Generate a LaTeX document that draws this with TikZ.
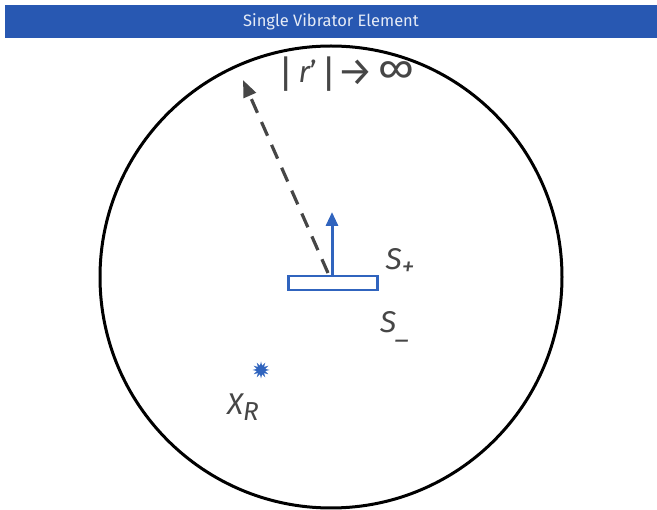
\documentclass[tikz,border=0pt]{standalone}
\usepackage{fontspec}
\setmainfont{Fira Sans}
\usetikzlibrary{shapes.geometric,arrows.meta}
\definecolor{barblue}{RGB}{40,88,178}
\definecolor{elblue}{RGB}{48,100,190}
\definecolor{labgray}{RGB}{70,70,70}
\newcommand{\lowsub}[1]{\raisebox{-0.4ex}{\fontsize{26}{26}\selectfont #1}}
\newcommand{\tallbar}{{\upshape\fontsize{38}{38}\selectfont\raisebox{-0.12em}{|}}}

\begin{document}
\begin{tikzpicture}[x=1pt, y=-1pt, every node/.style={inner sep=0pt},
    lab/.style={text=labgray, font=\fontsize{30}{30}\selectfont\itshape}]
    \useasboundingbox (0,0) rectangle (657,510);
    \clip (0,0) rectangle (657,510);

    \coordinate (C) at (331,277);
    \coordinate (Ptop) at (332,276);
    \coordinate (Parrow) at (332,212);
    \coordinate (Pfoot) at (328,273);
    \coordinate (Pfar) at (243,80);

    % Header bar
    \fill[barblue] (5,5) rectangle (657,38);
    \node[text=white!88!barblue, font=\fontsize{16.5}{16.5}\selectfont] (title) at (331,22) {Single Vibrator Element};

    % Big circle
    \draw[line width=3pt] (C) circle (231);

    % Vibrator element
    \node[draw=elblue, line width=2.4pt, minimum width=89pt, minimum height=14pt] (plate) at (333,283) {};
    \draw[elblue, line width=3pt, -{Triangle[length=14pt, width=12pt]}] (Ptop) -- (Parrow);

    % Dashed line to far field
    \draw[labgray, line width=3.2pt, dash pattern=on 15pt off 10pt, -{Triangle[length=17pt, width=13pt]}] (Pfoot) -- (Pfar);
    \node[lab, anchor=west] (rinf) at (278,74) {\tallbar\,\itshape r\upshape'\,\tallbar{\fontsize{40}{40}\selectfont\raisebox{-0.06em}{→}}\,{\fontsize{40}{40}\selectfont∞}};

    % Surface labels
    \node[lab] (splus) at (400,262) {S\lowsub{+}};
    \node[lab] (sminus) at (395,327) {S\lowsub{\_}};

    % Receiver point
    \node[star, star points=12, star point ratio=2, fill=elblue, minimum size=17pt] (xr) at (261,370) {};
    \node[lab] (xrlab) at (243,407) {X\lowsub{R}};

\end{tikzpicture}
\end{document}
